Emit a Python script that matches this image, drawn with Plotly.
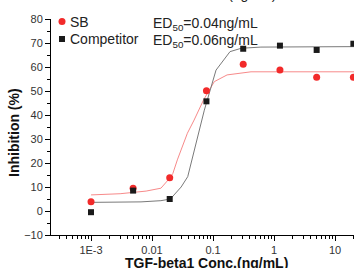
import plotly.graph_objects as go

# ---- data ----
conc = [0.001, 0.0049, 0.0195, 0.078, 0.3125, 1.25, 5, 20]
sb_vals = [3.9, 9.5, 13.9, 50.1, 61.1, 58.7, 55.7, 55.7]
comp_vals = [-0.5, 8.5, 5.0, 45.7, 67.6, 68.9, 67.1, 69.7]

# fitted curves
sb_fit_x = [0.001, 0.003, 0.008, 0.014, 0.020, 0.022, 0.026, 0.038, 0.049, 0.056, 0.070, 0.105, 0.17, 0.42, 25]
sb_fit_y = [6.7, 7.2, 8.3, 9.5, 14.0, 15.7, 21.3, 32.4, 37.9, 41.0, 46.3, 53.9, 56.7, 58.0, 58.0]
comp_fit_x = [0.001, 0.0066, 0.014, 0.020, 0.030, 0.0385, 0.072, 0.112, 0.19, 0.29, 0.61, 25]
comp_fit_y = [3.6, 3.8, 4.3, 5.0, 10.0, 14.3, 42.0, 58.7, 66.4, 67.8, 68.3, 68.5]

x_ticks = [0.001, 0.01, 0.1, 1, 10]
x_ticktext = ["1E-3", "0.01", "0.1", "1", "10"]
x_minor = [m * 10.0 ** k for k in range(-4, 2) for m in range(2, 10)]

FONT = "Arial, Liberation Sans, sans-serif"
W, H = 354, 268
L, T, B = 51, 19, 33
PW, PH = W - L, H - T - B


def px(x):
    return (x - L) / PW


def py(y):
    return (H - B - y) / PH


fig = go.Figure()
fig.add_trace(go.Scatter(x=sb_fit_x, y=sb_fit_y, mode="lines",
                         line=dict(color="#f78a8a", width=1), showlegend=False))
fig.add_trace(go.Scatter(x=comp_fit_x, y=comp_fit_y, mode="lines",
                         line=dict(color="#7a7a7a", width=1), showlegend=False))
fig.add_trace(go.Scatter(x=conc, y=sb_vals, mode="markers", name="SB",
                         marker=dict(symbol="circle", size=7, color="#f22a2a"),
                         showlegend=False, cliponaxis=False))
fig.add_trace(go.Scatter(x=conc, y=comp_vals, mode="markers", name="Competitor",
                         marker=dict(symbol="square", size=6, color="#1a1a1a"),
                         showlegend=False, cliponaxis=False))

shapes = [
    dict(type="circle", xref="paper", yref="paper", xsizemode="pixel", ysizemode="pixel",
         xanchor=px(62), yanchor=py(21.5), x0=-3.5, x1=3.5, y0=-3.5, y1=3.5,
         fillcolor="#f22a2a", line=dict(width=0)),
    dict(type="rect", xref="paper", yref="paper", xsizemode="pixel", ysizemode="pixel",
         xanchor=px(62), yanchor=py(39), x0=-3, x1=3, y0=-3, y1=3,
         fillcolor="#1a1a1a", line=dict(width=0)),
]

ann_font = dict(family=FONT, size=14, color="#222")
annotations = [
    dict(text="SB", x=px(68), y=py(21.5), xanchor="left", yanchor="middle"),
    dict(text="Competitor", x=px(68), y=py(39), xanchor="left", yanchor="middle"),
    dict(text="ED<sub>50</sub>=0.04ng/mL", x=px(151), y=py(23.5), xanchor="left", yanchor="middle"),
    dict(text="ED<sub>50</sub>=0.06ng/mL", x=px(151), y=py(41), xanchor="left", yanchor="middle"),
    dict(text="TGF-beta1 Conc.(ng/mL)", x=px(278), y=py(-6), xanchor="right", yanchor="middle"),
]
for a in annotations:
    a.update(xref="paper", yref="paper", showarrow=False, font=ann_font)

annotations.append(dict(text="<b>TGF-beta1 Conc.(ng/mL)</b>", x=px(206), y=py(263),
                        xref="paper", yref="paper", showarrow=False,
                        xanchor="center", yanchor="middle",
                        font=dict(family=FONT, size=14, color="#111")))
annotations.append(dict(text="<b>Inhibition (%)</b>", x=px(14), y=py(133),
                        xref="paper", yref="paper", showarrow=False, textangle=-90,
                        xanchor="center", yanchor="middle",
                        font=dict(family=FONT, size=14, color="#111")))

fig.update_layout(
    width=W, height=H,
    margin=dict(l=L, r=0, t=T, b=B, pad=0, autoexpand=False),
    paper_bgcolor="white", plot_bgcolor="white",
    showlegend=False,
    shapes=shapes, annotations=annotations,
    xaxis=dict(type="log", range=[-3.656, 1.311], tickvals=x_ticks, ticktext=x_ticktext,
               automargin=False,
               ticks="outside", ticklen=5, tickwidth=1, tickcolor="black",
               showline=True, linecolor="black", linewidth=1, showgrid=False, zeroline=False,
               tickfont=dict(family=FONT, size=11, color="#333"),
               minor=dict(tickvals=x_minor, ticks="outside", ticklen=3, tickcolor="black", showgrid=False)),
    yaxis=dict(range=[-10, 80], dtick=10, tick0=0, automargin=False,
               ticks="outside", ticklen=5, tickwidth=1, tickcolor="black",
               showline=True, linecolor="black", linewidth=1, showgrid=False, zeroline=False,
               tickfont=dict(family=FONT, size=11, color="#333"),
               minor=dict(dtick=5, ticks="outside", ticklen=3, tickcolor="black", showgrid=False)),
)

fig.write_html("out.html", config={"displayModeBar": False},
               post_script="document.body.style.margin='0';document.body.style.overflow='hidden';")
